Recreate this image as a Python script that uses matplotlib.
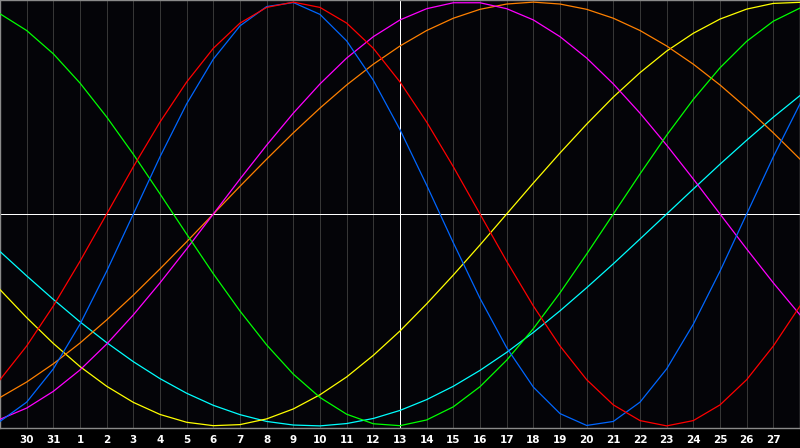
import matplotlib
matplotlib.use("Agg")
from matplotlib import pyplot as plt

# day index 0..30 across the chart; grid lines sit on days 1..29
days = list(range(31))
day_labels = ["30", "31", "1", "2", "3", "4", "5", "6", "7", "8", "9", "10",
              "11", "12", "13", "14", "15", "16", "17", "18", "19", "20",
              "21", "22", "23", "24", "25", "26", "27"]
today = 15

# cycle values read per day (-1 .. 1)
physical = [-0.979, -0.888, -0.731, -0.520, -0.270, 0.0, 0.270, 0.520, 0.731,
            0.888, 0.979, 0.998, 0.942, 0.817, 0.631, 0.398, 0.136, -0.136,
            -0.398, -0.631, -0.817, -0.942, -0.998, -0.979, -0.888, -0.731,
            -0.520, -0.270, 0.0, 0.270, 0.520]
emotional = [-0.782, -0.623, -0.434, -0.223, 0.0, 0.223, 0.434, 0.623, 0.782,
             0.901, 0.975, 1.0, 0.975, 0.901, 0.782, 0.623, 0.434, 0.223, 0.0,
             -0.223, -0.434, -0.623, -0.782, -0.901, -0.975, -1.0, -0.975,
             -0.901, -0.782, -0.623, -0.434]
intellectual = [0.945, 0.866, 0.756, 0.618, 0.458, 0.282, 0.095, -0.095,
                -0.282, -0.458, -0.618, -0.756, -0.866, -0.945, -0.990,
                -0.999, -0.972, -0.910, -0.815, -0.690, -0.541, -0.372,
                -0.189, 0.0, 0.189, 0.372, 0.541, 0.690, 0.815, 0.910, 0.972]
intuitive = [-0.969, -0.916, -0.837, -0.736, -0.614, -0.476, -0.325, -0.165,
             0.0, 0.165, 0.325, 0.476, 0.614, 0.736, 0.837, 0.916, 0.969,
             0.997, 0.997, 0.969, 0.916, 0.837, 0.736, 0.614, 0.476, 0.325,
             0.165, 0.0, -0.165, -0.325, -0.476]
aesthetic = [-0.357, -0.489, -0.611, -0.720, -0.813, -0.889, -0.946, -0.983,
             -0.999, -0.994, -0.967, -0.920, -0.853, -0.769, -0.667, -0.552,
             -0.424, -0.288, -0.146, 0.0, 0.146, 0.288, 0.424, 0.552, 0.667,
             0.769, 0.853, 0.920, 0.967, 0.994, 0.999]
awareness = [-0.866, -0.793, -0.707, -0.609, -0.5, -0.383, -0.259, -0.131,
             0.0, 0.131, 0.259, 0.383, 0.5, 0.609, 0.707, 0.793, 0.866, 0.924,
             0.966, 0.991, 1.0, 0.991, 0.966, 0.924, 0.866, 0.793, 0.707,
             0.609, 0.5, 0.383, 0.259]
spiritual = [-0.177, -0.292, -0.403, -0.509, -0.607, -0.697, -0.777, -0.846,
             -0.903, -0.947, -0.979, -0.996, -1.0, -0.989, -0.965, -0.927,
             -0.876, -0.813, -0.738, -0.653, -0.559, -0.457, -0.348, -0.235,
             -0.118, 0.0, 0.118, 0.235, 0.348, 0.457, 0.559]

series = [
    (spiritual, "#00ffff"),
    (aesthetic, "#ffff00"),
    (awareness, "#ff8000"),
    (intuitive, "#ff00ff"),
    (intellectual, "#00ff00"),
    (physical, "#0066ff"),
    (emotional, "#ff0000"),
]

PX = 0.72  # one pixel at 100 dpi

fig = plt.figure(figsize=(8, 4.48), dpi=100, facecolor="black")
ax = fig.add_axes([0, 20 / 448, 1, 428 / 448])
ax.set_facecolor("#040408")

for d in range(1, 30):
    ax.axvline(d, color="#363636", lw=PX, zorder=1, antialiased=False)
ax.axhline(0, color="white", lw=PX, zorder=2, antialiased=False)
ax.axvline(today, color="white", lw=PX, zorder=2, antialiased=False)

for values, color in series:
    ax.plot(days, values, color=color, lw=0.9, zorder=3)

ax.set_xlim(0, 30)
ax.set_ylim(-1.01, 1.01)
ax.set_yticks([])
ax.set_xticks(range(1, 30))
ax.set_xticklabels(day_labels, color="white", fontsize=7.5, fontweight="bold")
ax.tick_params(axis="x", length=0, pad=5)
for s in ax.spines.values():
    s.set_color("#8a8a8a")
    s.set_linewidth(1)

fig.savefig("out.png", dpi=100, facecolor="black")
